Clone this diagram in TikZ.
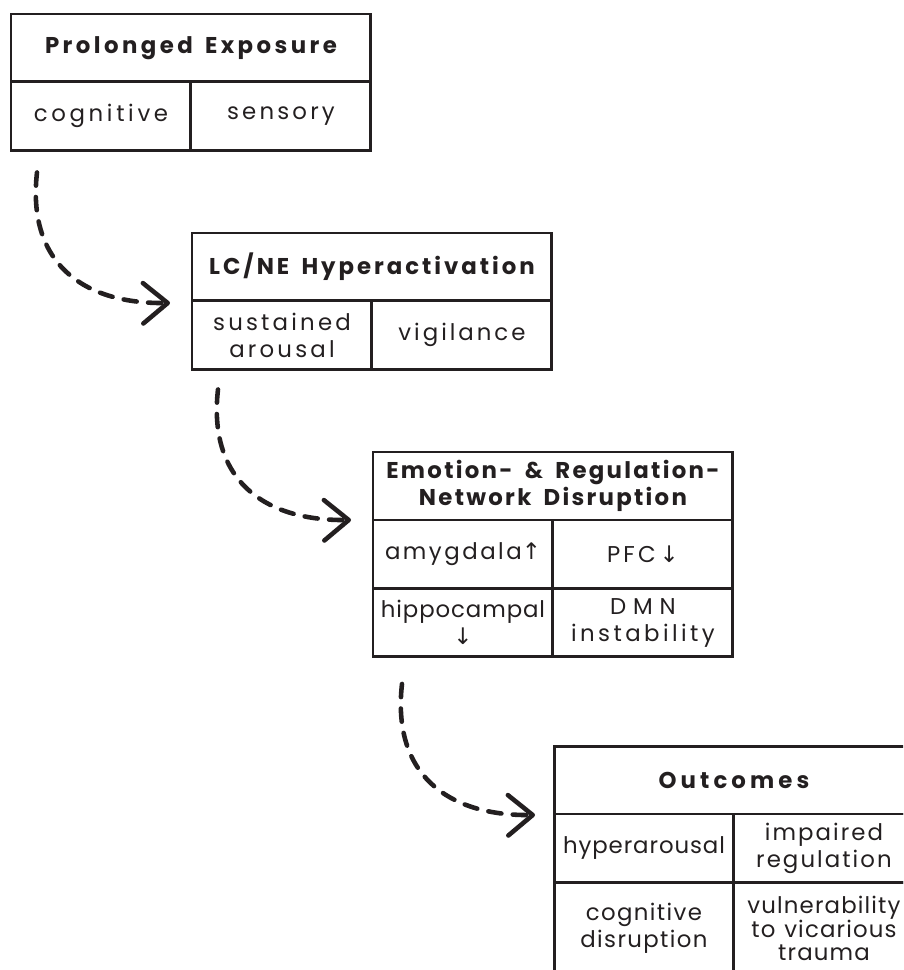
\documentclass[tikz,border=0pt]{standalone}
\usepackage{fontspec}
\setmainfont{Poppins}
\newfontfamily\arrowfont{DejaVu Sans}
\usetikzlibrary{arrows.meta, positioning}
\definecolor{ink}{HTML}{231F20}
\newcommand\widesp[1]{\spaceskip #1\relax}

\begin{document}
\begin{tikzpicture}[x=0.02cm, y=-0.02cm,
    every node/.style={text=ink, outer sep=0pt},
    hd/.style={draw=ink, line width=1.7pt, minimum width=7.2cm, minimum height=1.36cm, align=center, inner sep=0pt, anchor=north west, font=\fontsize{13}{15.8}\selectfont\bfseries\addfontfeatures{LetterSpace=#1}\widesp{7pt}},
    hd/.default=16,
    cl/.style={draw=ink, line width=1.7pt, minimum width=3.6cm, minimum height=1.37cm, align=center, inner sep=0pt, font=\fontsize{13}{15.4}\selectfont\addfontfeatures{LetterSpace=#1}\widesp{5pt}},
    cl/.default=14,
    fl/.style={draw=ink, line width=2.6pt, dash pattern=on 7.5pt off 6.5pt, line cap=round, -{Straight Barb[length=14pt,width=23pt,round]}}
]
\useasboundingbox (0,0) rectangle (903,970);
\clip (0,0) rectangle (903,970);
% stage 1
\node[hd=15] (t1) at (11,14) {Prolonged Exposure};
\node[cl=16, anchor=north west] (c11) at (t1.south west) {cognitive};
\node[cl=14, right=0pt of c11] (c12) {sensory};
% stage 2
\node[hd=13] (t2) at (192,233) {LC/NE Hyperactivation};
\node[cl=14, anchor=north west] (c21) at (t2.south west) {sustained\\arousal};
\node[cl=13, right=0pt of c21] (c22) {vigilance};
% stage 3
\node[hd=10] (t3) at (373,452) {Emotion- \& Regulation-\\Network Disruption};
\node[cl=11, anchor=north west] (c31) at (t3.south west) {amygdala{\arrowfont ↑}};
\node[cl=14, right=0pt of c31] (c32) {PFC\,{\arrowfont ↓}};
\node[cl=4, below=0pt of c31] (c33) {hippocampal\\{\arrowfont ↓}};
\node[cl=15, below=0pt of c32] (c34) {{\addfontfeatures{LetterSpace=30}DMN}\\instability};
% stage 4
\node[hd=18] (t4) at (554,746) {Outcomes};
\node[cl=4, anchor=north west] (c41) at (t4.south west) {hyperarousal};
\node[cl=9, right=0pt of c41] (c42) {impaired\\regulation};
\node[cl=6, below=0pt of c41, minimum height=1.84cm] (c43) {cognitive\\disruption};
\node[cl=5, below=0pt of c42, minimum height=1.84cm, font=\fontsize{13}{13.6}\selectfont\addfontfeatures{LetterSpace=5}\widesp{5pt}] (c44) {vulnerability\\to vicarious\\trauma};
% flow
\draw[fl] ([shift={(26,22)}]c11.south west) .. controls +(-10,88) and +(-90,1) .. ([shift={(-22,2)}]t2.south west);
\draw[fl] ([shift={(26,20)}]c21.south west) .. controls +(-10,88) and +(-90,1) .. ([shift={(-22,0)}]t3.south west);
\draw[fl] ([shift={(29,27)}]c33.south west) .. controls +(-10,88) and +(-90,1) .. ([shift={(-19,1)}]t4.south west);
\end{tikzpicture}
\end{document}
